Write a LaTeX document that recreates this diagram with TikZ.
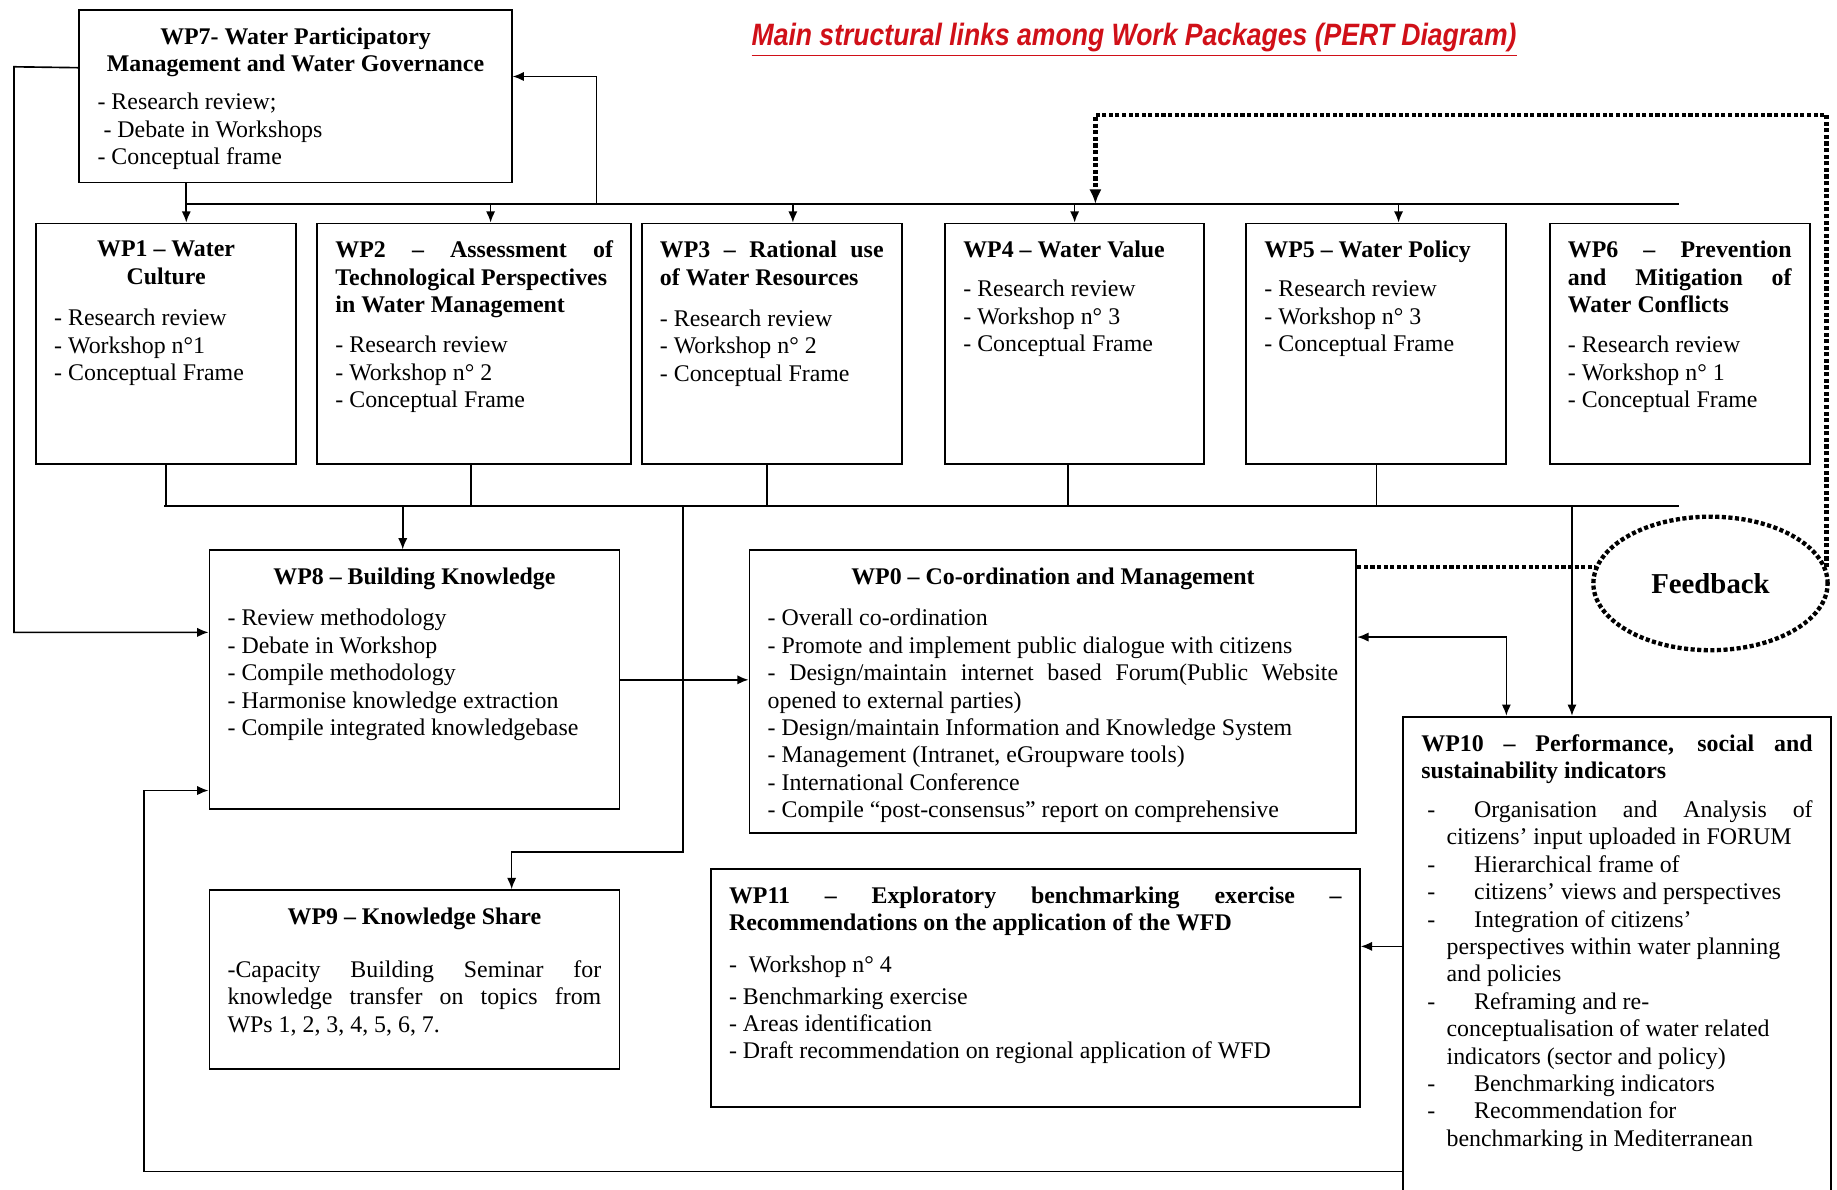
\documentclass[tikz,border=0pt]{standalone}
\usepackage{fontspec}
\setmainfont{Liberation Serif}
\newfontfamily\titlefont{Liberation Sans}
\usetikzlibrary{arrows.meta,shapes.geometric}

\definecolor{titlered}{RGB}{208,16,24}
\newcommand{\spread}[1]{\makebox[\linewidth][s]{#1}}
\newcommand{\dashitem}{\hspace*{0.1cm}\makebox[0.8cm][l]{-}}
\newcommand{\contline}{\hspace*{0.43cm}}
\newcommand{\wpbox}[3]{\parbox[t][#2cm][t]{#1cm}{#3}}

\begin{document}
\begin{tikzpicture}[x=0.02cm, y=-0.02cm,
  >={Latex[length=5.5pt,width=4.5pt]},
  wp/.style={draw, line width=0.9pt, anchor=north west, inner xsep=0.31cm,
    inner ysep=0.3cm, font=\fontsize{11.6}{13.3}\selectfont},
  link/.style={line width=0.8pt},
  fbline/.style={line width=2.1pt, dash pattern=on 2pt off 1.2pt,
    >={Latex[length=7pt,width=6pt]}},
  fb/.style={ellipse, draw, fbline, inner sep=0pt, minimum width=4cm,
    minimum height=2.28cm, font=\fontsize{14}{16}\selectfont\bfseries}]
\useasboundingbox (0,0) rectangle (1568,1015);

% title
\node[text=titlered, font=\titlefont\bfseries\itshape\fontsize{15}{18}\selectfont]
  (title) at (968,34) {\scalebox{0.86}[1]{\underline{Main structural links among Work Packages (PERT Diagram)}}};

% work packages
\node[wp] (wp7) at (67,8) {\wpbox{6.76}{2.34}{{\centering\bfseries WP7- Water Participatory\\
  Management and Water Governance\par}\vspace{0.18cm}
  - Research review;\\
  \hspace*{0.25em}- Debate in Workshops\\
  - Conceptual frame}};

\node[wp] (wp1) at (30,190) {\wpbox{3.82}{3.50}{{\centering\bfseries WP1 -- Water\\ Culture\par}\vspace{0.24cm}
  - Research review\\
  - Workshop n°1\\
  - Conceptual Frame}};
\node[wp] (wp2) at (270,190) {\wpbox{4.74}{3.50}{{\bfseries\spread{WP2 -- Assessment of}\\
  Technological Perspectives\\ in Water Management\par}\vspace{0.22cm}
  - Research review\\
  - Workshop n° 2\\
  - Conceptual Frame}};
\node[wp] (wp3) at (547,190) {\wpbox{3.82}{3.50}{{\bfseries\spread{WP3 -- Rational use}\\
  of Water Resources\par}\vspace{0.24cm}
  - Research review\\
  - Workshop n° 2\\
  - Conceptual Frame}};
\node[wp] (wp4) at (806,190) {\wpbox{3.80}{3.50}{{\bfseries WP4 -- Water Value\par}\vspace{0.2cm}
  - Research review\\
  - Workshop n° 3\\
  - Conceptual Frame}};
\node[wp] (wp5) at (1063,190) {\wpbox{3.82}{3.50}{{\bfseries WP5 -- Water Policy\par}\vspace{0.2cm}
  - Research review\\
  - Workshop n° 3\\
  - Conceptual Frame}};
\node[wp] (wp6) at (1322,190) {\wpbox{3.82}{3.50}{{\bfseries\spread{WP6 -- Prevention}\\
  \spread{and Mitigation of}\\ Water Conflicts\par}\vspace{0.22cm}
  - Research review\\
  - Workshop n° 1\\
  - Conceptual Frame}};

\node[wp] (wp8) at (178,469) {\wpbox{6.38}{3.82}{{\centering\bfseries WP8 -- Building Knowledge\par}\vspace{0.24cm}
  - Review methodology\\
  - Debate in Workshop\\
  - Compile methodology\\
  - Harmonise knowledge extraction\\
  - Compile integrated knowledgebase}};
\node[wp] (wp0) at (639,469) {\wpbox{9.74}{4.22}{{\centering\bfseries WP0 -- Co-ordination and Management\par}\vspace{0.24cm}
  - Overall co-ordination\\
  - Promote and implement public dialogue with citizens\\
  \spread{- Design/maintain internet based Forum(Public Website}\\
  opened to external parties)\\
  - Design/maintain Information and Knowledge System\\
  - Management (Intranet, eGroupware tools)\\
  - International Conference\\
  - Compile “post-consensus” report on comprehensive}};
\node[wp] (wp9) at (178,759) {\wpbox{6.38}{2.46}{{\centering\bfseries WP9 -- Knowledge Share\par}\vspace{0.44cm}
  \spread{-Capacity Building Seminar for}\\
  \spread{knowledge transfer on topics from}\\
  WPs 1, 2, 3, 4, 5, 6, 7.}};
\node[wp] (wp11) at (606,741) {\wpbox{10.46}{3.46}{{\bfseries\spread{WP11 -- Exploratory benchmarking exercise --}\\
  Recommendations on the application of the WFD\par}\vspace{0.24cm}
  -\hspace{0.5em}Workshop n° 4\\[0.08cm]
  - Benchmarking exercise\\
  - Areas identification\\
  - Draft recommendation on regional application of WFD}};
\node[wp] (wp10) at (1197,611) {\wpbox{6.68}{7.80}{{\bfseries\spread{WP10 -- Performance, social and}\\
  sustainability indicators\par}\vspace{0.2cm}
  \spread{\dashitem Organisation and Analysis of}\\
  \contline citizens' input uploaded in FORUM\\
  \dashitem Hierarchical frame of\\
  \dashitem citizens' views and perspectives\\
  \dashitem Integration of citizens'\\
  \contline perspectives within water planning\\
  \contline and policies\\
  \dashitem Reframing and re-\\
  \contline conceptualisation of water related\\
  \contline indicators (sector and policy)\\
  \dashitem Benchmarking indicators\\
  \dashitem Recommendation for\\
  \contline benchmarking in Mediterranean}};

\node[fb] (fb) at (1460,498) {Feedback};

% bus points
\coordinate (topL) at (159,174);
\coordinate (topR) at (1433,174);
\coordinate (botL) at (140,432);
\coordinate (botR) at (1433,432);
\coordinate (toWP7) at (509,174);
\coordinate (toWP9) at (583,432);
\coordinate (left) at (12,57);
\coordinate (back) at (123,1000);
\coordinate (fbturn) at (935,98);

% top bus
\draw[link] (topL) -- (topR);
\draw[link] (wp7.south -| topL) -- (topL);
\draw[link,->] (topL) -- (wp1.north -| topL);
\draw[link,->] ([xshift=0.28cm]wp2.north |- topL) -- ([xshift=0.28cm]wp2.north);
\draw[link,->] ([xshift=0.36cm]wp3.north |- topL) -- ([xshift=0.36cm]wp3.north);
\draw[link,->] (wp4.north |- topL) -- (wp4.north);
\draw[link,->] ([xshift=0.38cm]wp5.north |- topL) -- ([xshift=0.38cm]wp5.north);
\draw[link,->] (toWP7) |- ([yshift=0.34cm]wp7.east);

% bottom bus
\draw[link] (botL) -- (botR);
\draw[link] (wp1.south) -- (wp1.south |- botL);
\draw[link] ([xshift=-0.06cm]wp2.south) -- ([xshift=-0.06cm]wp2.south |- botL);
\draw[link] ([xshift=-0.08cm]wp3.south) -- ([xshift=-0.08cm]wp3.south |- botL);
\draw[link] ([xshift=-0.11cm]wp4.south) -- ([xshift=-0.11cm]wp4.south |- botL);
\draw[link] (wp5.south) -- (wp5.south |- botL);
\draw[link,->] ([xshift=-0.2cm]wp8.north |- botL) -- ([xshift=-0.2cm]wp8.north);
\draw[link,->] (toWP9) |- ([xshift=1.66cm,yshift=0.64cm]wp9.north) -- ([xshift=1.66cm]wp9.north);
\draw[link,->] ([xshift=-0.77cm]wp10.north |- botL) -- ([xshift=-0.77cm]wp10.north);

% other links
\draw[link,->] ([yshift=0.49cm]wp7.west) -- (left) |- ([yshift=0.81cm]wp8.west);
\draw[link,->] (wp8.east) -- (wp8.east -| wp0.west);
\draw[link,<->] ([yshift=0.93cm]wp0.east) -| ([xshift=-1.89cm]wp10.north);
\draw[link,->] ([yshift=0.71cm]wp11.east -| wp10.west) -- ([yshift=0.71cm]wp11.east);
\draw[link,->] (wp10.west |- back) -- (back) |- ([yshift=-1.89cm]wp8.west);

% feedback
\draw[fbline] (wp0.east |- fb.172) -- (fb.172);
\draw[fbline,->] (fb.8) |- (fbturn) -- (fbturn |- topL);
\end{tikzpicture}
\end{document}
